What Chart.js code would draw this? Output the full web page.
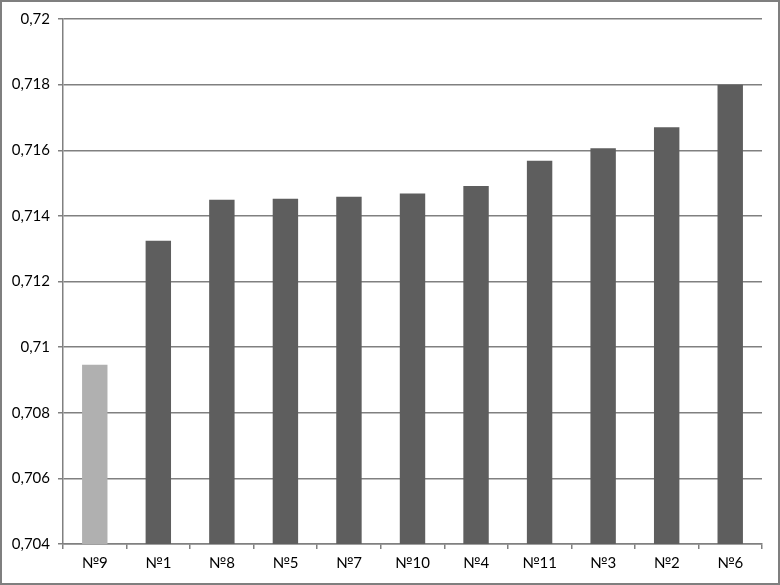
<!DOCTYPE html>
<html>
<head>
<meta charset="utf-8">
<script src="https://cdn.jsdelivr.net/npm/chart.js@4/dist/chart.umd.min.js"></script>
<style>
  html, body { margin: 0; padding: 0; background: #ffffff; }
  #wrap { width: 780px; height: 585px; }
</style>
</head>
<body>
<div id="wrap"><canvas id="c" width="780" height="585"></canvas></div>
<script>
const categories = ["№9", "№1", "№8", "№5", "№7", "№10", "№4", "№11", "№3", "№2", "№6"];
const values = [0.70946, 0.71324, 0.71449, 0.71452, 0.71458, 0.71468, 0.71491, 0.71568, 0.71606, 0.71670, 0.71800];
const yTicks = [0.704, 0.706, 0.708, 0.71, 0.712, 0.714, 0.716, 0.718, 0.72];
const highlighted = ["№9"];

const darkColor = "#5e5e5e";
const lightColor = "#b0b0b0";
const gridColor = "#808080";
const fontFamily = "Lato, 'DejaVu Sans', sans-serif";

const framePlugin = {
  id: "frame",
  beforeDraw(chart) {
    const ctx = chart.ctx;
    ctx.save();
    ctx.fillStyle = "#ffffff";
    ctx.fillRect(0, 0, chart.width, chart.height);
    ctx.restore();
  },
  afterDraw(chart) {
    const ctx = chart.ctx;
    ctx.save();
    ctx.strokeStyle = "#7f7f7f";
    ctx.lineWidth = 2;
    ctx.strokeRect(1, 1, chart.width - 2, chart.height - 2);
    ctx.restore();
  }
};

new Chart(document.getElementById("c"), {
  type: "bar",
  data: {
    labels: categories,
    datasets: [{
      data: values,
      backgroundColor: categories.map(c => highlighted.includes(c) ? lightColor : darkColor),
      borderWidth: 0,
      barPercentage: 0.4,
      categoryPercentage: 1.0
    }]
  },
  options: {
    responsive: false,
    animation: false,
    devicePixelRatio: 1,
    layout: { padding: { top: 19, right: 18, left: 0, bottom: 0 } },
    plugins: {
      legend: { display: false },
      tooltip: { enabled: false }
    },
    scales: {
      x: {
        grid: {
          display: true,
          drawOnChartArea: false,
          drawTicks: true,
          tickLength: 5,
          color: gridColor,
          lineWidth: 1.5,
          offset: true
        },
        border: { display: true, color: gridColor, width: 1.5 },
        ticks: {
          color: "#000000",
          font: { family: fontFamily, size: 15 },
          padding: 5,
          maxRotation: 0,
          autoSkip: false
        },
        afterFit(scale) { scale.height = 41; }
      },
      y: {
        min: yTicks[0],
        max: yTicks[yTicks.length - 1],
        afterBuildTicks(scale) {
          scale.ticks = yTicks.map(v => ({ value: v }));
        },
        grid: {
          display: true,
          drawOnChartArea: true,
          drawTicks: true,
          tickLength: 5,
          color: gridColor,
          lineWidth: 1.5
        },
        border: { display: true, color: gridColor, width: 1.5 },
        ticks: {
          color: "#000000",
          font: { family: fontFamily, size: 15 },
          padding: 8,
          callback: (v) => String(parseFloat(Number(v).toFixed(3))).replace(".", ",")
        },
        afterFit(scale) { scale.width = 63; }
      }
    }
  },
  plugins: [framePlugin]
});
</script>
</body>
</html>
